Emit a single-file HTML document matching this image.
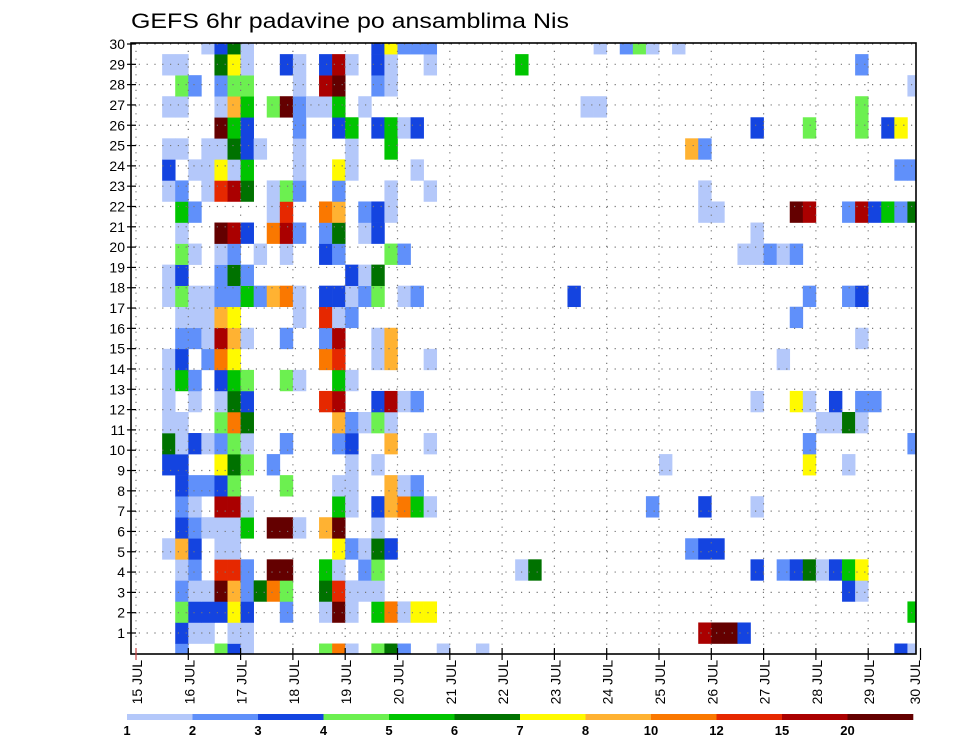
<!DOCTYPE html>
<html><head><meta charset="utf-8"><style>
html,body{margin:0;padding:0;background:#fff;}
svg{display:block;font-family:"Liberation Sans",sans-serif;}
</style></head><body>
<svg id="chart" width="960" height="742" viewBox="0 0 960 742" xmlns="http://www.w3.org/2000/svg">
<text x="131" y="28" font-size="21" textLength="438" lengthAdjust="spacingAndGlyphs" fill="#000">GEFS 6hr padavine po ansamblima Nis</text>
<defs><clipPath id="plotclip"><rect x="131" y="43" width="785" height="611"/></clipPath></defs>
<g id="cells" clip-path="url(#plotclip)"></g>
<g id="grid" clip-path="url(#plotclip)"></g>
<rect x="131" y="43" width="785" height="611" fill="none" stroke="#000" stroke-width="1.6"/>
<g id="yaxis"></g>
<g id="xaxis"></g>
<g id="legend"></g>
</svg>
<script>
// ---- data ----
const dayLabels = ["15 JUL","16 JUL","17 JUL","18 JUL","19 JUL","20 JUL","21 JUL","22 JUL","23 JUL","24 JUL","25 JUL","26 JUL","27 JUL","28 JUL","29 JUL","30 JUL"];
const memberTicks = [1,2,3,4,5,6,7,8,9,10,11,12,13,14,15,16,17,18,19,20,21,22,23,24,25,26,27,28,29,30];
const levels = [1,2,3,4,5,6,7,8,10,12,15,20];
const levelColors = ["#b4c8fa","#6090fa","#1444e0","#6cf050","#00c400","#007200","#fffa00","#ffb232","#fa7800","#e62800","#aa0000","#640000"];
// class code -> representative precipitation (mm/6h)
const codeValues = {a:1.5,b:2.5,c:3.5,d:4.5,e:5.5,f:6.5,g:7.5,h:9,i:11,k:13,l:17,m:25};
// one string per ensemble member (bottom band first): "timeIndex+code"
const member00 = "3b 6d 7c 8a 14d 15i 16a 18d 19f 20b 23a 26a 58c 59a";
const member01 = "3c 4a 5a 7a 8a 43l 44m 45m 46c";
const member02 = "3d 4c 5c 6c 7g 8c 11b 14a 15m 16a 18e 19i 20a 21g 22g 59e";
const member03 = "3b 4a 5a 6m 7h 8b 9f 10i 11d 14f 15k 16a 17a 18a 54c 55a";
const member04 = "3a 4b 6k 7k 8b 10m 11m 14e 15a 17b 18d 29a 30f 47c 49b 50c 51f 52a 53c 54e 55g";
const member05 = "2a 3h 4c 6a 7a 15g 16b 17a 18f 19c 42b 43c 44c";
const member06 = "3c 4b 5a 6a 7a 8e 10m 11m 12a 14h 15m 18a";
const member07 = "3b 4a 6l 7l 8a 15e 16a 18c 19h 20i 21e 22a 39b 43c 47a";
const member08 = "3c 4b 5b 6c 7d 11d 15a 16a 19h 20a 21b";
const member09 = "2c 3c 6g 7f 8d 10b 16a 18a 40a 51g 54a";
const member10 = "2f 3a 4c 5a 6b 7d 8a 11b 15b 16c 19h 22a 51b 59b";
const member11 = "2a 3a 6d 7i 8f 15h 16b 17a 18d 19a 52a 53a 54f 55a";
const member12 = "2a 4a 6a 7f 8c 14k 15l 18c 19l 20a 21b 47a 50g 51a 53c 55b 56b";
const member13 = "2a 3e 4b 6c 7e 8d 11d 12a 15e 16a";
const member14 = "2a 3c 5b 6i 7g 14i 15k 18a 19h 22a 49a";
const member15 = "3b 4b 5a 6l 7h 8a 11b 14b 15l 18a 19h 55a";
const member16 = "3a 4a 5a 6h 7g 12a 14k 15a 16b 50b";
const member17 = "2a 3d 4a 5a 6b 7b 8e 9b 10h 11i 12a 14c 15c 16a 17b 18d 20a 21b 33c 51b 54b 55c";
const member18 = "2a 3c 6b 7f 8b 16c 17a 18f";
const member19 = "3d 4a 6a 7b 9a 11a 14c 15b 19d 20b 46a 47a 48b 49a 50b";
const member20 = "3a 6m 7l 8c 10i 11l 12b 14b 15f 17a 18c 47a";
const member21 = "3e 4b 10a 11k 14i 15h 17b 18c 19a 43a 44a 50m 51l 54b 55l 56c 57e 58b 59f";
const member22 = "2a 3b 5a 6k 7l 8f 10a 11d 12b 15b 19a 22a 43a";
const member23 = "2c 4a 5a 6g 7a 8e 12a 15g 16a 21a 58b 59b";
const member24 = "2a 3a 5a 6a 7f 8c 9a 12a 16a 19e 42h 43b";
const member25 = "6m 7e 8c 12b 15c 16e 18c 19e 20a 21c 47c 51d 55d 57c 58g";
const member26 = "2a 3a 6a 7h 8e 10d 11m 12b 13a 14a 15e 17a 34a 35a 55d";
const member27 = "3d 4b 6b 7d 8d 12a 14l 15m 18b 19a 59a";
const member28 = "2a 3a 6f 7g 8a 11c 12a 14c 15l 16a 18c 19a 22a 29e 55b";
const member29 = "5a 6c 7f 8a 18c 19g 20b 21b 22b 35a 37b 38d 39a 41a";
const members = [member00,member01,member02,member03,member04,member05,member06,member07,member08,member09,member10,member11,member12,member13,member14,member15,member16,member17,member18,member19,member20,member21,member22,member23,member24,member25,member26,member27,member28,member29];

// ---- scales ----
const NS="http://www.w3.org/2000/svg";
const plotL=131, plotR=916, plotT=43, plotB=654;
const x0=136, dayW=52.3, stepW=dayW/4;
function xTime(j){return x0+j*stepW;}
function xDay(d){return x0+d*dayW;}
function yMember(k){return 633-(k-1)*21.05;}   // band center
const bandH=21.05;
function yTick(n){return 633-(n-1)*20.31;}
function colorFor(v){let c=null;for(let i=0;i<levels.length;i++){if(v>=levels[i])c=levelColors[i];}return c;}
function mk(tag,attrs,parent){const e=document.createElementNS(NS,tag);for(const k in attrs)e.setAttribute(k,attrs[k]);parent.appendChild(e);return e;}

// cells
const gC=document.getElementById('cells');
members.forEach((s,k)=>{
  s.trim().split(/\s+/).forEach(tok=>{
    const j=parseInt(tok,10), code=tok.replace(/[0-9]/g,'');
    const v=codeValues[code]; const col=colorFor(v); if(!col)return;
    const r=mk('rect',{x:xTime(j).toFixed(2),y:(yMember(k)-bandH/2).toFixed(2),width:(stepW+0.3).toFixed(2),height:(bandH+0.3).toFixed(2),fill:col},gC);
    
    
  });
});

// grid
const gG=document.getElementById('grid');
memberTicks.forEach(n=>{
  const l=mk('line',{x1:plotL,x2:plotR,y1:yTick(n),y2:yTick(n),stroke:'#777','stroke-width':1.2,'stroke-dasharray':'1.2,6.6'},gG);
  
  
});
dayLabels.forEach((d,i)=>{
  const l=mk('line',{x1:xDay(i),x2:xDay(i),y1:plotT,y2:plotB,stroke:'#777','stroke-width':1.2,'stroke-dasharray':'1.2,6.6'},gG);
  
  
});

// y axis
const gY=document.getElementById('yaxis');
memberTicks.forEach(n=>{
  const t=mk('line',{x1:plotL-4,x2:plotL+5,y1:yTick(n),y2:yTick(n),stroke:'#000','stroke-width':1.2},gY);
  
  
  const tx=mk('text',{x:plotL-6,y:yTick(n)+5,'font-size':14,'text-anchor':'end',fill:'#000'},gY);
  tx.textContent=n;
  
  
});

// x axis
const gX=document.getElementById('xaxis');
dayLabels.forEach((d,i)=>{
  const x=xDay(i); if(x>plotR+6)return;
  const t=mk('line',{x1:x,x2:x,y1:plotB-6,y2:plotB+6,stroke:i==0?'#c44':'#000','stroke-width':1.2},gX);
  
  
  const tx=mk('text',{x:0,y:0,'font-size':14,'text-anchor':'end',fill:'#000',transform:'translate('+(Math.min(x,914)+6)+',660) rotate(-90)'},gX);
  tx.textContent=d;
  
  
});

// legend
const gL=document.getElementById('legend');
const legX=127, legW=65.5;
levelColors.forEach((c,i)=>{
  const r=mk('rect',{x:legX+i*legW,y:714,width:legW+0.3,height:6,fill:c},gL);
  
  
  const t=mk('text',{x:legX+i*legW,y:735,'font-size':13,'font-weight':'bold','text-anchor':'middle',fill:'#000'},gL);
  t.textContent=levels[i];
  
  
});
</script>
</body></html>
